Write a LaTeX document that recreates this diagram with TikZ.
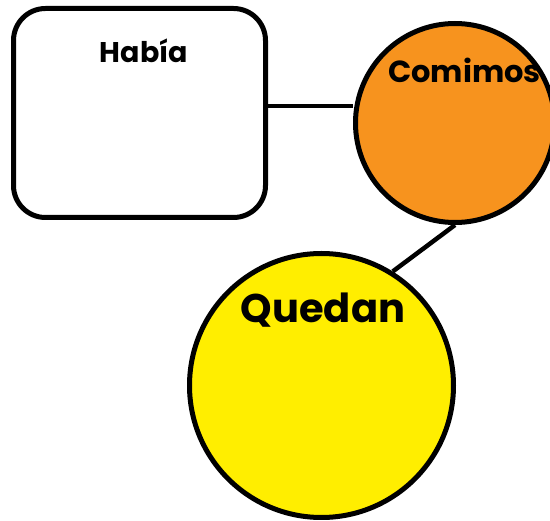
\documentclass[tikz,border=0pt]{standalone}
\usepackage{fontspec}
\setmainfont{Poppins}[UprightFont=* Bold]
\definecolor{orangefill}{RGB}{247,147,30}
\definecolor{yellowfill}{RGB}{255,238,0}
\begin{document}
\begin{tikzpicture}[x=1pt,y=-1pt,
  shapeline/.style={draw=black,line width=5pt},
  lbl/.style={anchor=base,inner sep=0pt}]
\useasboundingbox (0,0) rectangle (550,521);
\node[shapeline,rounded corners=32pt,minimum width=252pt,minimum height=209pt,fill=white] (habia) at (139.5,113) {};
\node[shapeline,circle,minimum size=199pt,fill=orangefill] (comimos) at (455,123) {};
\node[shapeline,circle,minimum size=264pt,fill=yellowfill] (quedan) at (321.5,385.5) {};
\draw[line width=4.5pt] (habia.east |- 0,106) -- (comimos.west |- 0,106);
\draw[line width=4.5pt] (comimos.south) -- (quedan.58);
\node[lbl,font=\fontsize{28.5}{28.5}\selectfont] (t1) at (144,63) {Había};
\node[lbl,font=\fontsize{30.5}{30.5}\selectfont] (t2) at (464.5,83) {Comimos};
\node[lbl,font=\fontsize{40}{40}\selectfont] (t3) at (323,323) {Quedan};
\end{tikzpicture}
\end{document}
